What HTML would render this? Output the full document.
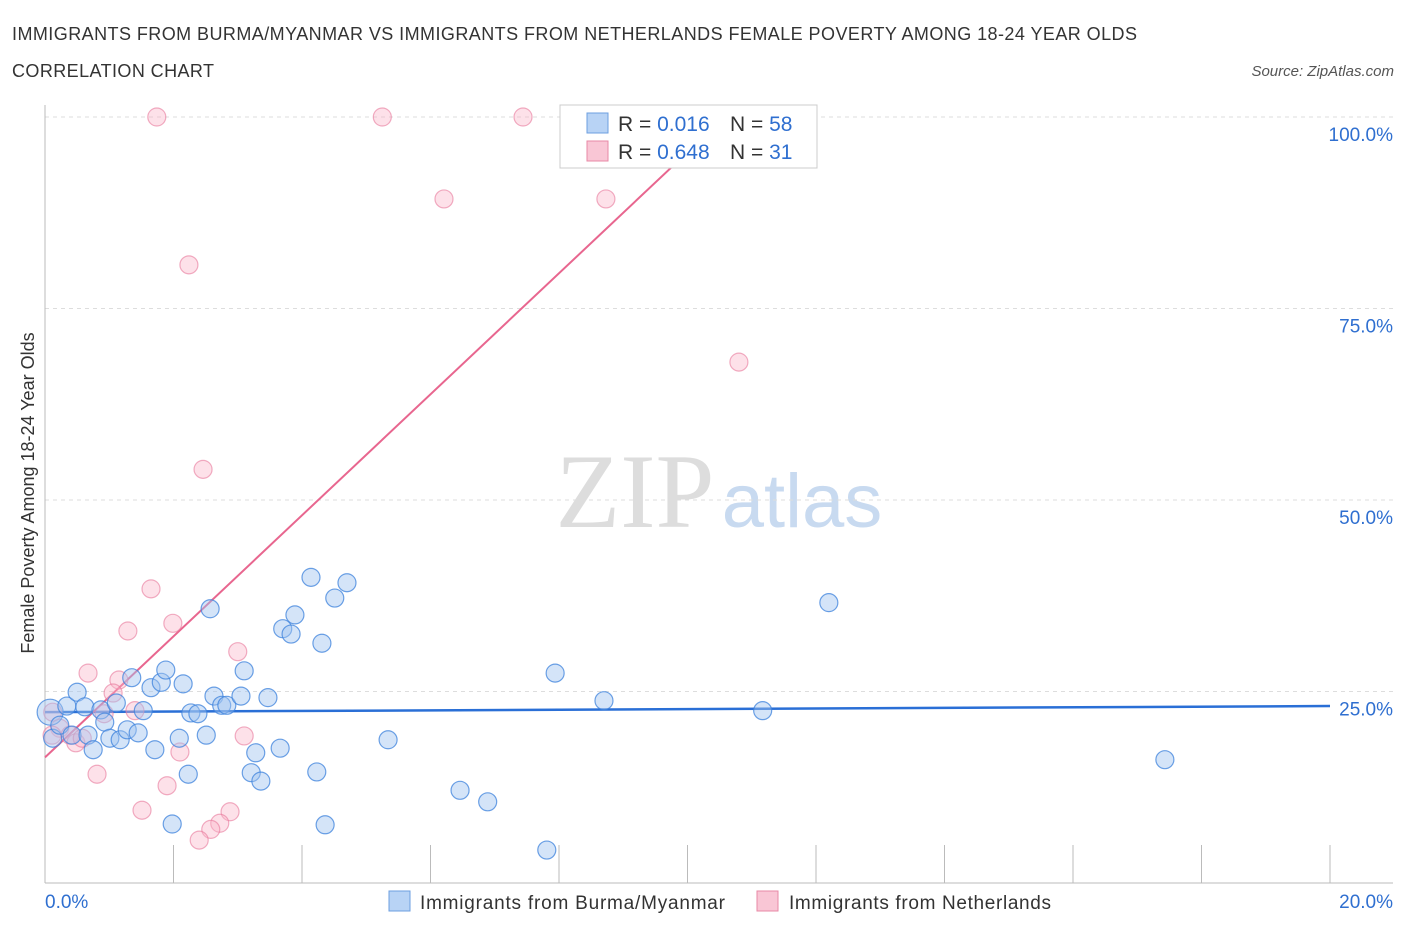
<!DOCTYPE html>
<html><head><meta charset="utf-8"><style>
body{margin:0;background:#fff;width:1406px;height:930px;overflow:hidden;font-family:"Liberation Sans",sans-serif}
</style></head><body>
<svg id="chart" width="1406" height="930" xmlns="http://www.w3.org/2000/svg" font-family="Liberation Sans, sans-serif">
<text x="12" y="40" font-size="18" fill="#333" textLength="1125" lengthAdjust="spacing">IMMIGRANTS FROM BURMA/MYANMAR VS IMMIGRANTS FROM NETHERLANDS FEMALE POVERTY AMONG 18-24 YEAR OLDS</text>
<text x="12" y="77" font-size="18" fill="#333" textLength="202" lengthAdjust="spacing">CORRELATION CHART</text>
<text x="1394" y="76" font-size="15" fill="#555" font-style="italic" text-anchor="end">Source: ZipAtlas.com</text>
<g>
<text x="635" y="527" font-size="106" fill="#ddd" font-family="Liberation Serif, serif" text-anchor="middle">ZIP</text>
<text x="802" y="527" font-size="76" fill="#c8daf0" text-anchor="middle">atlas</text>
</g>
<g id="grid"></g>
<g id="axes"></g>
<g id="lines"></g>
<g id="points"></g>
<text transform="translate(34,493) rotate(-90)" font-size="18" fill="#333" text-anchor="middle">Female Poverty Among 18-24 Year Olds</text>
<g>
<rect x="560" y="105" width="257" height="63" fill="#fff" stroke="#ccc"/>
<rect x="587" y="113" width="21" height="20" fill="#b8d3f5" stroke="#6d9fe0"/>
<rect x="587" y="141" width="21" height="20" fill="#f9c6d5" stroke="#e888a6"/>
<text x="618" y="131" font-size="21" fill="#333">R = <tspan fill="#2f6fd0">0.016</tspan></text>
<text x="730" y="131" font-size="21" fill="#333">N = <tspan fill="#2f6fd0">58</tspan></text>
<text x="618" y="159" font-size="21" fill="#333">R = <tspan fill="#2f6fd0">0.648</tspan></text>
<text x="730" y="159" font-size="21" fill="#333">N = <tspan fill="#2f6fd0"> 31</tspan></text>
</g>
<g>
<rect x="389" y="891" width="21" height="20" fill="#b8d3f5" stroke="#6d9fe0"/>
<text x="420" y="909" font-size="19" fill="#333" textLength="305" lengthAdjust="spacing">Immigrants from Burma/Myanmar</text>
</g>
<g>
<rect x="757" y="891" width="21" height="20" fill="#f9c6d5" stroke="#e888a6"/>
<text x="789" y="909" font-size="19" fill="#333" textLength="262" lengthAdjust="spacing">Immigrants from Netherlands</text>
</g>
</svg>
<script>
const xTicks=[0,20];
const yTicks=[25,50,75,100];
const blueX=[0.08,0.12,0.23,0.34,0.50,0.42,0.62,0.67,0.75,0.87,0.93,1.01,1.11,1.17,1.28,1.35,1.45,1.53,1.65,1.71,1.81,1.88,1.98,2.09,2.15,2.23,2.27,2.38,2.51,2.57,2.63,2.75,2.83,3.05,3.10,3.21,3.28,3.36,3.47,3.66,3.70,3.83,3.89,4.14,4.23,4.31,4.36,4.51,4.70,5.34,6.46,6.89,7.81,7.94,8.70,11.17,12.20,17.43];
const blueY=[22.3,18.9,20.6,23.1,24.9,19.3,23.0,19.3,17.4,22.6,21.0,18.9,23.5,18.7,20.0,26.8,19.6,22.5,25.5,17.4,26.2,27.8,7.7,18.9,26.0,14.2,22.2,22.1,19.3,35.8,24.4,23.2,23.2,24.4,27.7,14.4,17.0,13.3,24.2,17.6,33.2,32.5,35.0,39.9,14.5,31.3,7.6,37.2,39.2,18.7,12.1,10.6,4.3,27.4,23.8,22.5,36.6,16.1];
const pinkX=[1.74,5.25,7.44,6.21,8.73,2.24,10.80,2.46,1.65,1.99,1.29,3.00,0.67,1.15,1.06,1.40,0.92,0.12,0.23,0.11,0.39,0.48,0.58,3.10,2.10,0.81,1.90,1.51,2.88,2.72,2.58,2.40];
const pinkY=[100,100,100,89.3,89.3,80.7,68.0,54.0,38.4,33.9,32.9,30.2,27.4,26.5,24.8,22.5,22.1,22.3,20.2,19.3,19.3,18.3,18.9,19.2,17.1,14.2,12.7,9.5,9.3,7.8,7.0,5.6];
const blueFit=[22.3,23.1];   // y at x=0, x=20
const pinkFit=[16.4,7.9];    // intercept, slope per 1%
const NS='http://www.w3.org/2000/svg';
const X0=45,X1=1330,Y0=883,Y100=117;
const sx=v=>X0+(v/20)*(X1-X0);
const sy=v=>Y0-(v/100)*(Y0-Y100);
function mk(tag,attrs,parent){const e=document.createElementNS(NS,tag);for(const k in attrs)e.setAttribute(k,attrs[k]);parent.appendChild(e);return e;}
const grid=document.getElementById('grid'),axes=document.getElementById('axes'),lines=document.getElementById('lines'),pts=document.getElementById('points');
yTicks.forEach(t=>{
 const l=mk('line',{x1:45,x2:1395,y1:sy(t),y2:sy(t),stroke:'#ddd','stroke-dasharray':'4,4'},grid);
 
 
 const tx=mk('text',{x:1393,y:sy(t)+24,'font-size':19,fill:'#2f6fd0','text-anchor':'end'},axes);
 tx.textContent=t.toFixed(1)+'%';
 
 
});
const ya=mk('line',{x1:45,x2:45,y1:105,y2:883,stroke:'#bbb'},axes);


const xa=mk('line',{x1:45,x2:1393,y1:883,y2:883,stroke:'#bbb'},axes);


for(let i=1;i<=10;i++){
 const t=mk('line',{x1:sx(i*2),x2:sx(i*2),y1:845,y2:883,stroke:'#bbb'},axes);
 
 
}
xTicks.forEach((t,i)=>{
 const tx=mk('text',{x:i?1393:45,y:908,'font-size':19,fill:'#2f6fd0','text-anchor':i?'end':'start'},axes);
 tx.textContent=t.toFixed(1)+'%';
 
 
});
function dots(xs,ys,fill,stroke,name){
 xs.forEach((x,i)=>{
  const c=mk('circle',{cx:sx(x),cy:sy(ys[i]),r:(name==='blue-point'&&i===0)?13:9,fill:fill,stroke:stroke,'stroke-width':1.2},pts);
  
  
 });
}
dots(pinkX,pinkY,'rgba(249,180,200,0.4)','rgba(232,120,155,0.6)','pink-point');
dots(blueX,blueY,'rgba(160,196,240,0.45)','rgba(60,130,220,0.75)','blue-point');
const bl=mk('line',{x1:sx(0),y1:sy(blueFit[0]),x2:sx(20),y2:sy(blueFit[1]),stroke:'#2a6fd6','stroke-width':2.5},lines);


const pxEnd=(100-pinkFit[0])/pinkFit[1];
const pl=mk('line',{x1:sx(0),y1:sy(pinkFit[0]),x2:sx(pxEnd),y2:sy(100),stroke:'#e8668f','stroke-width':2},lines);


</script>
</body></html>
